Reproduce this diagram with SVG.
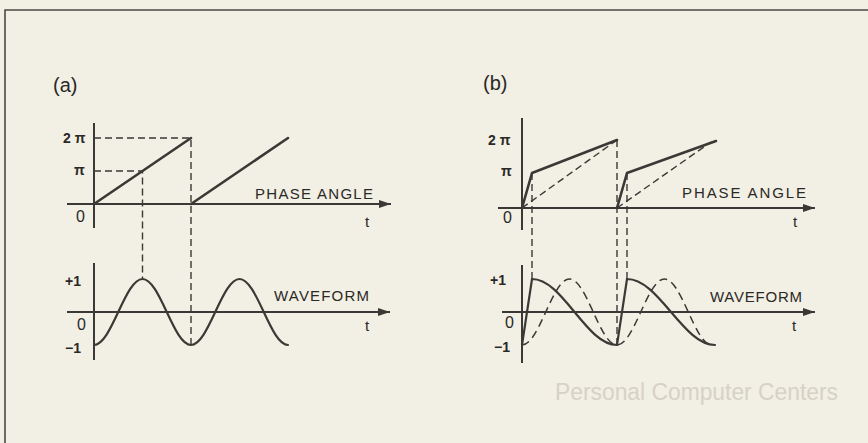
<svg xmlns="http://www.w3.org/2000/svg" width="868" height="443" viewBox="0 0 868 443">
  <style>
    .ax{stroke:#3a3935;stroke-width:2;fill:none}
    .thick{stroke:#3a3935;stroke-width:2.6;fill:none;stroke-linejoin:round;stroke-linecap:round}
    .wave{stroke:#3a3935;stroke-width:2.2;fill:none;stroke-linecap:round}
    .dash{stroke:#3a3935;stroke-width:1.4;fill:none;stroke-dasharray:7 4}
    .dwave{stroke:#3a3935;stroke-width:1.5;fill:none;stroke-dasharray:8 5}
    .lbl{font-family:"Liberation Sans",Arial,sans-serif;fill:#2a2926}
    .cap{font-size:15px}
    .num{font-size:14px;font-weight:bold}
    .zero{font-size:16px}
    .tag{font-size:20px}
    .ghost{font-family:"Liberation Sans",Arial,sans-serif;font-size:23px;fill:#d6d2c6}
  </style>
  <defs>
    <marker id="arr" viewBox="0 0 12 8" refX="12" refY="4" markerWidth="12" markerHeight="8" markerUnits="userSpaceOnUse" orient="auto">
      <path d="M0,0 L12,4 L0,8 Z" fill="#3a3935"/>
    </marker>
  </defs>
  <rect x="0" y="0" width="868" height="443" fill="#f2efe4"/>
  <text class="ghost" x="555" y="400" textLength="283" lengthAdjust="spacingAndGlyphs">Personal Computer Centers</text>
  <g id="frame" stroke="#4a4944" stroke-width="1.6" fill="none">
    <path d="M5,443 L5,10 L868,10"/>
  </g>

  <g id="panel-a-phase">
    <text class="lbl tag" x="53" y="92">(a)</text>
    <line class="ax" x1="94" y1="123" x2="94" y2="228"/>
    <line class="ax" x1="67" y1="204" x2="391" y2="204" marker-end="url(#arr)"/>
    <text class="lbl num" x="63" y="143">2 π</text>
    <text class="lbl num" x="74" y="175">π</text>
    <text class="lbl zero" x="76" y="222">0</text>
    <text class="lbl cap" x="255" y="199" textLength="118" lengthAdjust="spacing">PHASE ANGLE</text>
    <text class="lbl cap" x="365" y="227">t</text>
    <path class="thick" d="M94,204 L191,138"/>
    <path class="thick" d="M191,204 L288,138"/>
  </g>

  <g id="panel-a-wave">
    <line class="ax" x1="94" y1="263" x2="94" y2="360"/>
    <line class="ax" x1="67" y1="312" x2="390" y2="312" marker-end="url(#arr)"/>
    <text class="lbl num" x="65" y="286">+1</text>
    <text class="lbl zero" x="77" y="330">0</text>
    <text class="lbl num" x="65" y="353">−1</text>
    <text class="lbl cap" x="274" y="301" textLength="95" lengthAdjust="spacing">WAVEFORM</text>
    <text class="lbl cap" x="365" y="331">t</text>
    <path class="wave" d="M94,345 C102.74,345 110.33,328.92 118.25,312 C126.17,295.08 133.76,279 142.5,279 C151.24,279 158.83,295.08 166.75,312 C174.67,328.92 182.26,345 191,345 C199.74,345 207.33,328.92 215.25,312 C223.17,295.08 230.76,279 239.5,279 C248.24,279 255.83,295.08 263.75,312 C271.67,328.92 279.26,345 288,345"/>
  </g>

  <g id="panel-b-phase">
    <text class="lbl tag" x="483" y="90">(b)</text>
    <line class="ax" x1="522" y1="118" x2="522" y2="230"/>
    <line class="ax" x1="498" y1="208" x2="815" y2="208" marker-end="url(#arr)"/>
    <text class="lbl num" x="488" y="145">2 π</text>
    <text class="lbl num" x="501" y="176">π</text>
    <text class="lbl zero" x="503" y="223">0</text>
    <text class="lbl cap" x="682" y="198" textLength="124" lengthAdjust="spacing">PHASE ANGLE</text>
    <text class="lbl cap" x="793" y="227">t</text>
    <path class="thick" d="M522,208 L532,173 L617,140"/>
    <path class="dash" d="M522,208 L617,140"/>
    <path class="thick" d="M617,208 L627,173 L716,141"/>
    <path class="dash" d="M617,208 L711,142"/>
  </g>

  <g id="panel-b-wave">
    <line class="ax" x1="522" y1="265" x2="522" y2="363"/>
    <line class="ax" x1="502" y1="312" x2="815" y2="312" marker-end="url(#arr)"/>
    <text class="lbl num" x="490" y="285">+1</text>
    <text class="lbl zero" x="505" y="328">0</text>
    <text class="lbl num" x="494" y="352">−1</text>
    <text class="lbl cap" x="710" y="302" textLength="92" lengthAdjust="spacing">WAVEFORM</text>
    <text class="lbl cap" x="792" y="331">t</text>
    <path class="dwave" d="M522,345 C530.56,345 537.99,328.92 545.75,312 C553.51,295.08 560.94,279 569.5,279 C578.06,279 585.490,295.08 593.25,312 C601.01,328.92 608.44,345 617,345 C625.56,345 632.99,328.92 640.75,312 C648.51,295.08 655.94,279 664.5,279 C673.06,279 680.49,295.08 688.25,312 C696.01,328.92 703.44,345 712,345"/>
    <path class="wave" d="M522,345 L532,279 C547.31,279 560.63,295.08 574.5,312 C588.38,328.92 601.69,345 617,345 L627,279 C642.85,279 656.64,295.08 671,312 C685.36,328.92 699.15,345 715,345"/>
  </g>

  <g id="connectors">
    <path class="dash" d="M94,138 L191,138 L191,345"/>
    <path class="dash" d="M94,171 L142.5,171 L142.5,279"/>
    <path class="dash" d="M532,173 L532,279"/>
    <path class="dash" d="M617,140 L617,345"/>
    <path class="dash" d="M627,173 L627,279"/>
  </g>
</svg>
